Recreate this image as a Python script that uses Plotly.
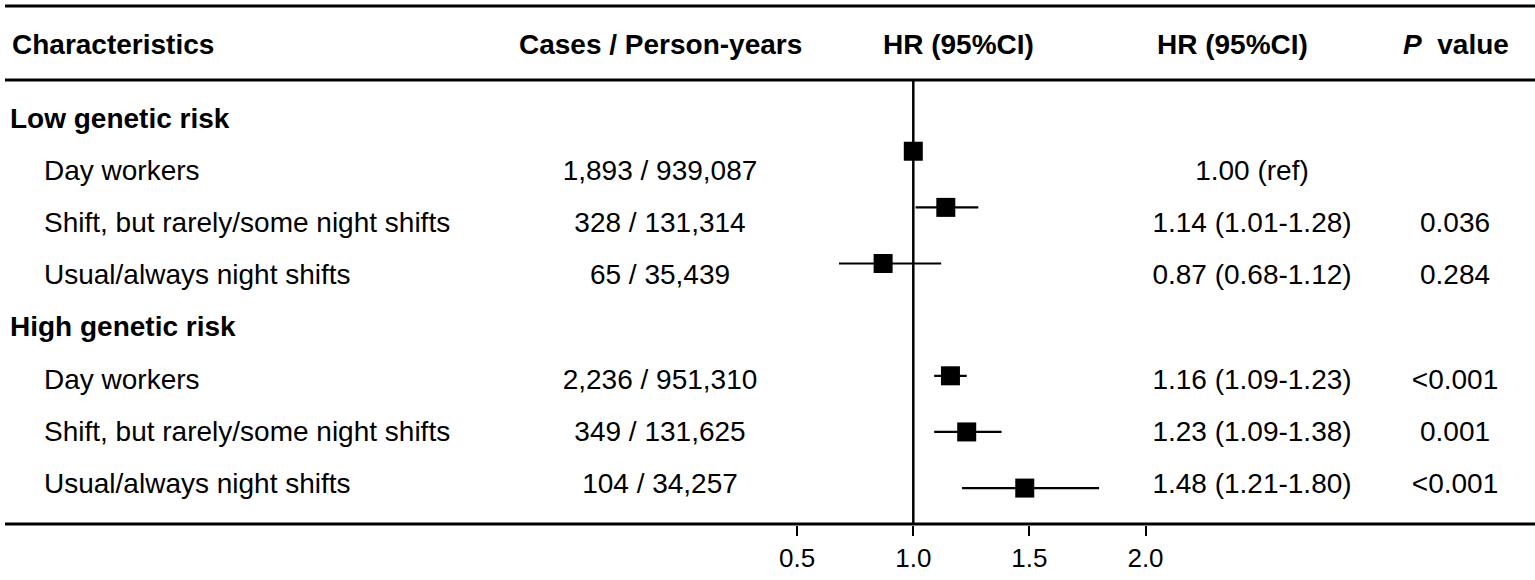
import plotly.graph_objects as go

W, H = 1535, 580

# ---- data ----
groups = ['Low genetic risk', 'High genetic risk']
exposures = ['Day workers', 'Shift, but rarely/some night shifts', 'Usual/always night shifts']
cases = ['1,893 / 939,087', '328 / 131,314', '65 / 35,439',
         '2,236 / 951,310', '349 / 131,625', '104 / 34,257']
hr = [1.00, 1.14, 0.87, 1.16, 1.23, 1.48]
ci_low = [None, 1.01, 0.68, 1.09, 1.09, 1.21]
ci_high = [None, 1.28, 1.12, 1.23, 1.38, 1.80]
hr_text = ['1.00 (ref)', '1.14 (1.01-1.28)', '0.87 (0.68-1.12)',
           '1.16 (1.09-1.23)', '1.23 (1.09-1.38)', '1.48 (1.21-1.80)']
p_text = ['', '0.036', '0.284', '<0.001', '0.001', '<0.001']
headers = ['Characteristics', 'Cases / Person-years', 'HR (95%CI)', 'HR (95%CI)', '<i>P</i>  value']
tick_vals = [0.5, 1.0, 1.5, 2.0]
tick_text = ['0.5', '1.0', '1.5', '2.0']

# row index for each line of the table (group header, then its items)
group_rows = []
item_rows = []
r = 0
for g in groups:
    group_rows.append(r)
    r += 1
    for e in exposures:
        item_rows.append(r)
        r += 1

FONT = 'Liberation Sans, Arial, sans-serif'
FS = 28

fig = go.Figure()

# confidence intervals
ci_x, ci_y = [], []
for lo, hi, row in zip(ci_low, ci_high, item_rows):
    if lo is None:
        continue
    ci_x += [lo, hi, None]
    ci_y += [row, row, None]
fig.add_trace(go.Scatter(x=ci_x, y=ci_y, mode='lines',
                         line=dict(color='black', width=2.2), hoverinfo='skip'))

# point estimates
fig.add_trace(go.Scatter(x=hr, y=item_rows, mode='markers',
                         marker=dict(symbol='square', size=19, color='black')))

# table text (on overlay axes measured in pixels / text rows)
def text_col(x, rows, txt, pos, bold=False):
    if bold:
        txt = ['<b>%s</b>' % t for t in txt]
    fig.add_trace(go.Scatter(x=[x] * len(rows), y=rows, text=txt, mode='text',
                             textposition=pos, xaxis='x2', yaxis='y2',
                             cliponaxis=False,
                             textfont=dict(family=FONT, size=FS, color='black'),
                             hoverinfo='skip'))

text_col(10, group_rows, groups, 'middle right', bold=True)
text_col(44, item_rows, exposures * 2, 'middle right')
text_col(660, item_rows, cases, 'middle center')
text_col(1252, item_rows, hr_text, 'middle center')
text_col(1455, item_rows, p_text, 'middle center')

# column headers
head_x = [10, 660, 958, 1232, 1456]
for i, (hx, ht) in enumerate(zip(head_x, headers)):
    fig.add_annotation(x=hx / W, y=1 - 45 / H, xref='paper', yref='paper',
                       text='<b>%s</b>' % ht, showarrow=False,
                       xanchor='left' if i == 0 else 'center', yanchor='middle',
                       font=dict(family=FONT, size=FS, color='black'))

# horizontal rules and reference line
for yy in [6, 80, 524]:
    fig.add_shape(type='line', xref='paper', yref='paper',
                  x0=5 / W, x1=1, y0=1 - yy / H, y1=1 - yy / H,
                  line=dict(color='black', width=3))
fig.add_shape(type='line', xref='x', yref='y domain', x0=1, x1=1, y0=0, y1=1,
              line=dict(color='black', width=2.5))

fig.update_layout(
    width=W, height=H,
    margin=dict(l=0, r=0, t=0, b=0),
    paper_bgcolor='white', plot_bgcolor='white',
    showlegend=False,
    xaxis=dict(range=[1 - 913.3 / 232.2, 1 + (W - 913.3) / 232.2],
               tickvals=tick_vals, ticktext=tick_text,
               ticks='outside', ticklen=10, tickwidth=1.5, tickcolor='black',
               showline=False, showgrid=False, zeroline=False,
               tickfont=dict(family=FONT, size=26, color='black')),
    yaxis=dict(domain=[1 - 525 / H, 1 - 80 / H],
               range=[(525 - 95.1) / 56.14, (80 - 95.1) / 56.14],
               visible=False),
    xaxis2=dict(overlaying='x', range=[0, W], visible=False),
    yaxis2=dict(overlaying='y', range=[(525 - 121) / 52.1, (80 - 121) / 52.1],
                visible=False),
)

# drop the default page margin so the figure sits at the window corner
fig.write_html('out.html', config={'displayModeBar': False},
               post_script="document.body.style.margin='0';")
